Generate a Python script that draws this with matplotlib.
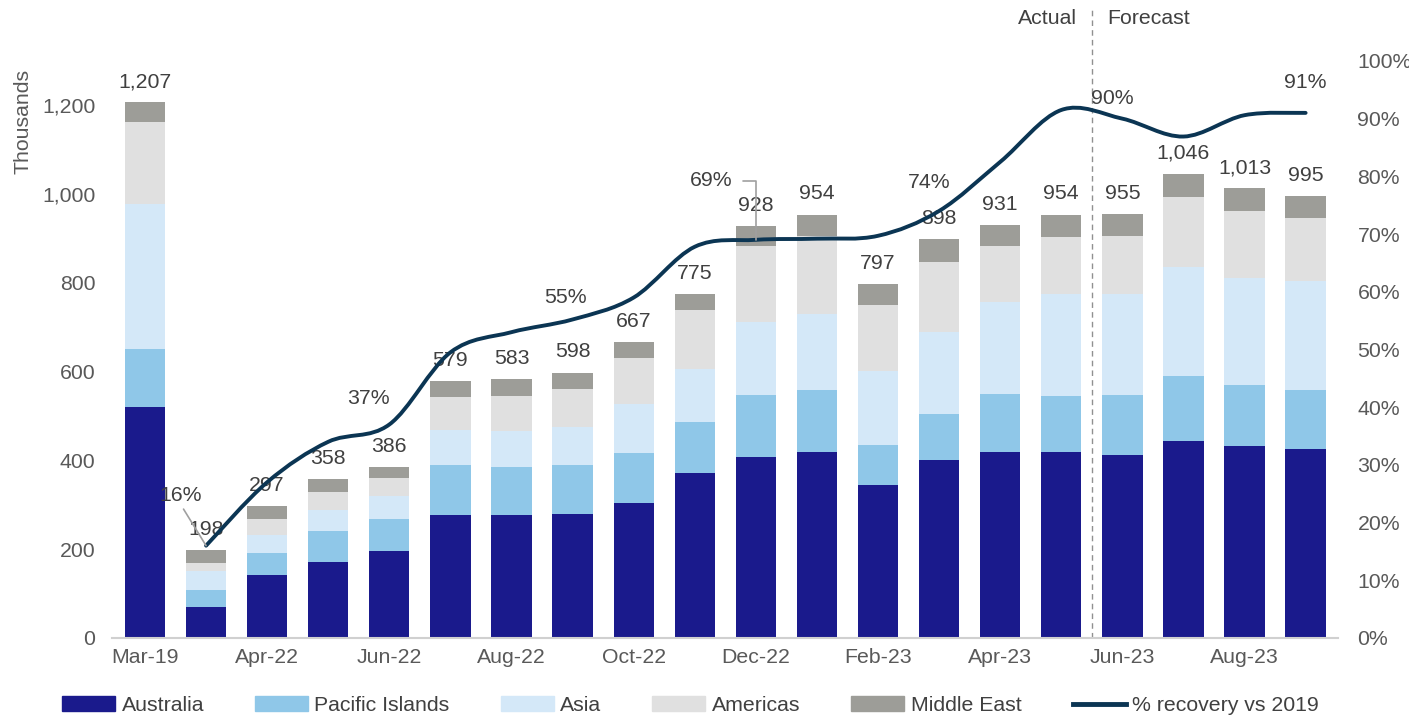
import numpy as np
import matplotlib.pyplot as plt
from matplotlib.path import Path
from matplotlib.patches import PathPatch
from matplotlib.lines import Line2D
from matplotlib.patches import Patch

plt.switch_backend('Agg')
plt.rcParams['font.family'] = ['Liberation Sans', 'DejaVu Sans']

# 데이터
months = ["Mar-19", "Mar-22", "Apr-22", "May-22", "Jun-22", "Jul-22", "Aug-22", "Sep-22",
          "Oct-22", "Nov-22", "Dec-22", "Jan-23", "Feb-23", "Mar-23", "Apr-23", "May-23",
          "Jun-23", "Jul-23", "Aug-23", "Sep-23"]
australia = [521, 70, 142, 172, 195, 278, 276, 280, 305, 372, 408, 420, 345, 402, 420, 420, 413, 444, 433, 426]
pacific = [129, 37, 50, 68, 74, 112, 110, 110, 112, 114, 140, 138, 90, 103, 130, 126, 135, 147, 138, 133]
asia = [327, 45, 40, 49, 52, 78, 81, 86, 110, 121, 163, 173, 166, 184, 208, 228, 226, 244, 239, 245]
americas = [185, 18, 36, 40, 39, 74, 79, 86, 103, 133, 172, 174, 150, 158, 125, 130, 131, 159, 152, 143]
middle_east = [45, 28, 29, 29, 26, 37, 37, 36, 37, 35, 45, 49, 46, 51, 48, 50, 50, 52, 51, 48]
totals = [1207, 198, 297, 358, 386, 579, 583, 598, 667, 775, 928, 954, 797, 898, 931, 954, 955, 1046, 1013, 995]
recovery = [np.nan, 0.16, 0.27, 0.34, 0.37, 0.495, 0.53, 0.552, 0.59, 0.678, 0.69, 0.692, 0.697,
            0.74, 0.825, 0.915, 0.90, 0.869, 0.906, 0.91]
series_names = ["Australia", "Pacific Islands", "Asia", "Americas", "Middle East"]
colors = ["#1a1a8c", "#8fc7e8", "#d4e8f8", "#e0e0e0", "#9d9d98"]
line_color = "#0b3553"
text_color = "#404040"
tick_color = "#595959"
fs = 15.3

x = np.arange(len(months))

fig = plt.figure(figsize=(14.09, 7.17), dpi=100)
ax = fig.add_axes([0.0795, 0.1102, 0.8701, 0.8048])
ax2 = ax.twinx()

# 누적 막대
bottom = np.zeros(len(months))
for vals, name, c in zip([australia, pacific, asia, americas, middle_east], series_names, colors):
    ax.bar(x, vals, bottom=bottom, width=0.66, color=c, label=name, zorder=2)
    bottom += np.array(vals)

for xi, t, b in zip(x, totals, bottom):
    ax.annotate(f"{t:,}", (xi, b), xytext=(0, 8), textcoords="offset points",
                ha="center", va="bottom", fontsize=fs, color=text_color)

ax.set_ylim(0, 1300)
ax.set_yticks(range(0, 1201, 200))
ax.set_yticklabels([f"{v:,}" for v in range(0, 1201, 200)])
ax.set_xlim(-0.54, 19.53)
ax.set_xticks(x[::2])
ax.set_xticklabels(months[::2])
for s in ["top", "right", "left"]:
    ax.spines[s].set_visible(False)
ax.spines["bottom"].set_color("#d0d0d0")
ax.spines["bottom"].set_linewidth(1.5)
ax.tick_params(axis="both", length=0, labelsize=fs, labelcolor=tick_color)
ax.tick_params(axis="y", pad=12)
ax.tick_params(axis="x", pad=7)

# 부드러운 회복률 선 (베지어)
ax2.set_ylim(0, 1.0)
ax2.set_yticks(np.arange(0, 1.01, 0.1))
ax2.set_yticklabels([f"{int(round(v * 100))}%" for v in np.arange(0, 1.01, 0.1)])
for s in ["top", "right", "left", "bottom"]:
    ax2.spines[s].set_visible(False)
ax2.tick_params(axis="y", length=0, labelsize=fs, labelcolor=tick_color, pad=14)

px = x[1:].astype(float)
py = np.array(recovery[1:])
verts = [(px[0], py[0])]
codes = [Path.MOVETO]
n = len(px)
for i in range(n - 1):
    p0 = np.array([px[max(i - 1, 0)], py[max(i - 1, 0)]])
    p1 = np.array([px[i], py[i]])
    p2 = np.array([px[i + 1], py[i + 1]])
    p3 = np.array([px[min(i + 2, n - 1)], py[min(i + 2, n - 1)]])
    c1 = p1 + (p2 - p0) / 6
    c2 = p2 - (p3 - p1) / 6
    verts += [tuple(c1), tuple(c2), tuple(p2)]
    codes += [Path.CURVE4] * 3
ax2.add_patch(PathPatch(Path(verts, codes), facecolor="none", edgecolor=line_color,
                        lw=2.8, zorder=3, capstyle="round"))

# 회복률 라벨
pct_labels = {4: (-21, 26), 7: (-7, 22), 13: (-10, 28), 16: (-10, 20), 19: (0, 30)}
for i, (dx, dy) in pct_labels.items():
    ax2.annotate(f"{recovery[i] * 100:.0f}%", (x[i], recovery[i]), xytext=(dx, dy),
                 textcoords="offset pixels", ha="center", va="center",
                 fontsize=fs, color=text_color, zorder=4)
# 지시선이 있는 라벨
ax2.annotate(f"{recovery[1] * 100:.0f}%", (x[1], recovery[1]), xytext=(-25, 50),
             textcoords="offset pixels", ha="center", va="center", fontsize=fs, color=text_color,
             arrowprops=dict(arrowstyle="-", color="#a0a0a0", lw=1.2, shrinkA=1, shrinkB=0,
                             relpos=(0.5, 0)))
ax2.annotate(f"{recovery[10] * 100:.0f}%", (x[10], recovery[10]), xytext=(-45, 59),
             textcoords="offset pixels", ha="center", va="center", fontsize=fs, color=text_color,
             arrowprops=dict(arrowstyle="-", color="#a0a0a0", lw=1.2, shrinkA=6, shrinkB=0,
                             relpos=(1, 0.5), connectionstyle="angle,angleA=0,angleB=90,rad=0"))

# 실적/예측 구분선
ax.axvline(15.5, ymin=0, ymax=1.092, color="#909090", lw=1, ls=(0, (4, 3)), clip_on=False, zorder=1)
ax.text(15.25, 1.073, "Actual", transform=ax.get_xaxis_transform(), ha="right", va="center",
        fontsize=fs, color=text_color)
ax.text(15.75, 1.073, "Forecast", transform=ax.get_xaxis_transform(), ha="left", va="center",
        fontsize=fs, color=text_color)

fig.text(0.016, 0.83, "Thousands", rotation=90, ha="center", va="center", fontsize=fs, color=tick_color)

handles = [Patch(color=c) for c in colors] + [Line2D([0], [0], color=line_color, lw=3.5)]
labels = series_names + ["% recovery vs 2019"]
fig.legend(handles, labels, loc="lower center", bbox_to_anchor=(0.49, -0.024), ncol=6, frameon=False,
           fontsize=fs, handlelength=2.5, handleheight=0.7, handletextpad=0.3, columnspacing=2.4,
           labelcolor=text_color)

plt.savefig("out.png", dpi=100)
